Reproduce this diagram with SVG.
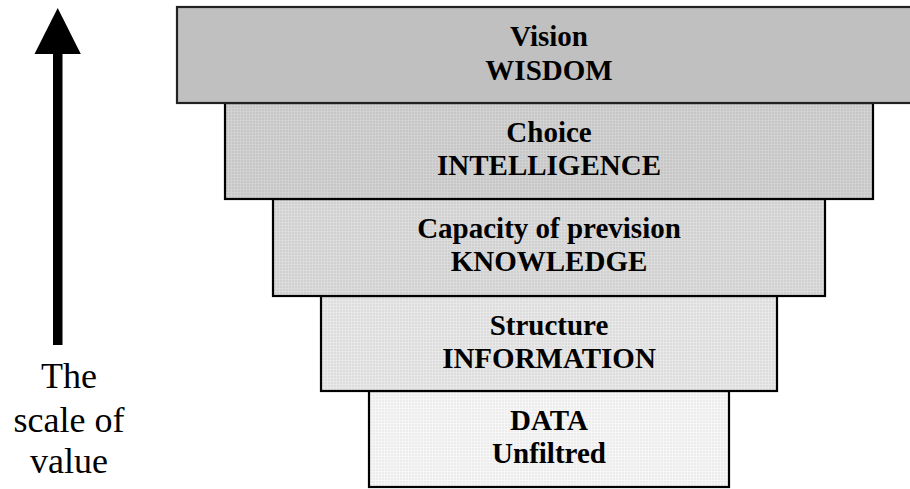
<svg xmlns="http://www.w3.org/2000/svg" width="910" height="489" viewBox="0 0 910 489">
<defs>
<pattern id="p2" width="3" height="3" patternUnits="userSpaceOnUse"><rect width="3" height="3" fill="#c6c6c6"/><rect x="0" y="0" width="1" height="3" fill="#d2d2d2"/><rect x="0" y="0" width="3" height="1" fill="#d2d2d2"/></pattern>
<pattern id="p3" width="3" height="3" patternUnits="userSpaceOnUse"><rect width="3" height="3" fill="#d0d0d0"/><rect x="0" y="0" width="1" height="3" fill="#dcdcdc"/><rect x="0" y="0" width="3" height="1" fill="#dcdcdc"/></pattern>
<pattern id="p4" width="3" height="3" patternUnits="userSpaceOnUse"><rect width="3" height="3" fill="#dcdcdc"/><rect x="0" y="0" width="1" height="3" fill="#e8e8e8"/><rect x="0" y="0" width="3" height="1" fill="#e8e8e8"/></pattern>
<pattern id="p5" width="3" height="3" patternUnits="userSpaceOnUse"><rect width="3" height="3" fill="#ececec"/><rect x="0" y="0" width="1" height="3" fill="#f6f6f6"/><rect x="0" y="0" width="3" height="1" fill="#f6f6f6"/></pattern>
</defs>
<style>
.box{stroke:#000;stroke-width:2.2}
.lbl{font-family:"Liberation Serif","Times New Roman",serif;font-weight:bold;font-size:29px;text-anchor:middle;fill:#000}
.scale{font-family:"Liberation Serif","Times New Roman",serif;font-size:36px;text-anchor:middle;fill:#000}
</style>
<rect width="910" height="489" fill="#fff"/>
<g id="data">
<rect class="box" x="369" y="391" width="360" height="96" fill="url(#p5)"/>
<text class="lbl" x="549" y="430">DATA</text>
<text class="lbl" x="549" y="463">Unfiltred</text>
</g>
<g id="information">
<rect class="box" x="321" y="296" width="456" height="95" fill="url(#p4)"/>
<text class="lbl" x="549" y="335">Structure</text>
<text class="lbl" x="549" y="368">INFORMATION</text>
</g>
<g id="knowledge">
<rect class="box" x="273" y="199" width="552" height="97" fill="url(#p3)"/>
<text class="lbl" x="549" y="238">Capacity of prevision</text>
<text class="lbl" x="549" y="271">KNOWLEDGE</text>
</g>
<g id="intelligence">
<rect class="box" x="225" y="103" width="648" height="96" fill="url(#p2)"/>
<text class="lbl" x="549" y="142">Choice</text>
<text class="lbl" x="549" y="175">INTELLIGENCE</text>
</g>
<g id="wisdom">
<rect x="177" y="7" width="746" height="96" fill="#c0c0c0" stroke="#222" stroke-width="2.2"/>
<text class="lbl" x="549" y="46">Vision</text>
<text class="lbl" x="549" y="80">WISDOM</text>
</g>
<g id="connectors">
<rect x="53" y="53" width="9.5" height="292" fill="#000"/>
<polygon points="57.7,8 34.5,54 80.8,54" fill="#000"/>
</g>
<g id="scale-label">
<text class="scale" x="69" y="388">The</text>
<text class="scale" x="69" y="432">scale of</text>
<text class="scale" x="69" y="473">value</text>
</g>
</svg>
